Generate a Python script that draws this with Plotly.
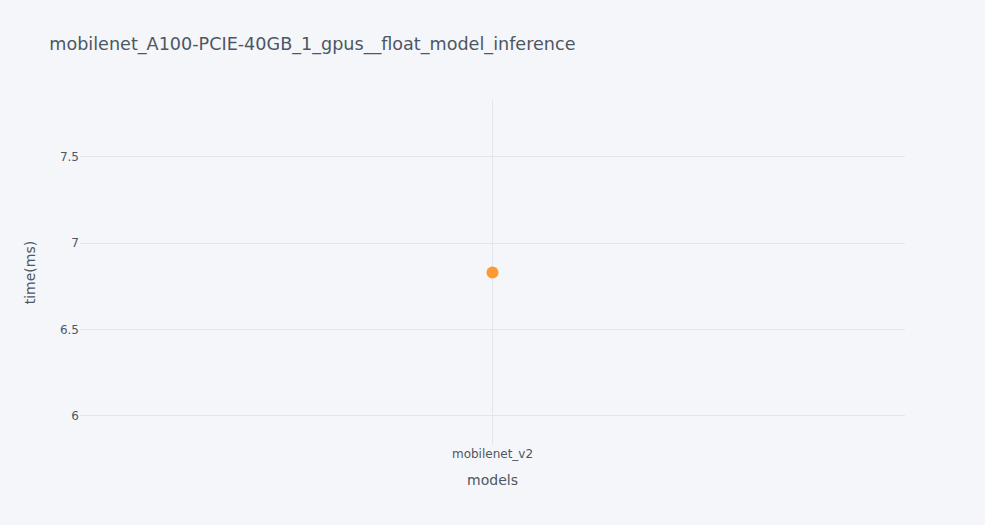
import plotly.graph_objects as go

models = ["mobilenet_v2"]
times_ms = [6.83]

fig = go.Figure()
fig.add_trace(go.Scatter(
    x=models, y=times_ms, mode="markers",
    marker=dict(color="#FF9933", size=12),
    name="time",
))
fig.update_layout(
    width=985, height=525,
    paper_bgcolor="#F5F6F9", plot_bgcolor="#F5F6F9",
    font=dict(family="DejaVu Sans, verdana, arial, sans-serif", color="#4D5663"),
    title=dict(text="mobilenet_A100-PCIE-40GB_1_gpus__float_model_inference",
               font=dict(color="#4D5663", size=17.6)),
    xaxis=dict(title=dict(text="models"), gridcolor="#E1E5ED", showgrid=True,
               zeroline=False, tickfont=dict(color="#4D5663")),
    yaxis=dict(title=dict(text="time(ms)", standoff=21), automargin=True,
               gridcolor="#E1E5ED", showgrid=True,
               zeroline=False, tickfont=dict(color="#4D5663")),
    margin=dict(l=80, r=80, t=100, b=80),
    showlegend=False,
)
fig.write_html("out.html")
